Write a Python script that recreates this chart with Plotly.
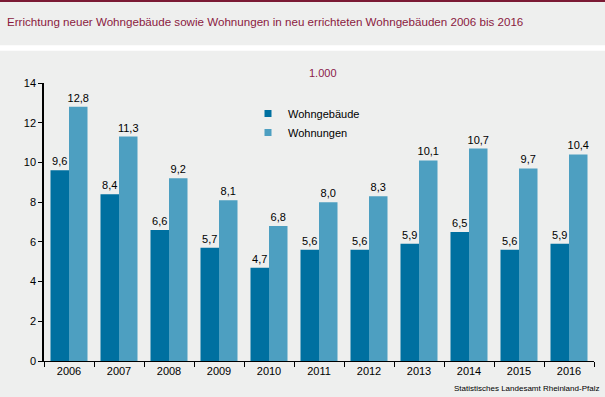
import plotly.graph_objects as go

years = ["2006", "2007", "2008", "2009", "2010", "2011", "2012", "2013", "2014", "2015", "2016"]
wohngebaeude = [9.6, 8.4, 6.6, 5.7, 4.7, 5.6, 5.6, 5.9, 6.5, 5.6, 5.9]
wohnungen = [12.8, 11.3, 9.2, 8.1, 6.8, 8.0, 8.3, 10.1, 10.7, 9.7, 10.4]
y_ticks = [0, 2, 4, 6, 8, 10, 12, 14]

BG = "#eeefee"
DARK = "#0070a0"
LIGHT = "#4d9fc1"
FONT = "Liberation Sans, Arial, sans-serif"

L, R, T, B = 44, 11, 83, 36
W, H = 605, 397
pw, ph = W - L - R, H - T - B

def px_x(q):
    return (q - L) / pw

def px_y(p):
    return (H - B - p) / ph

fig = go.Figure()
fig.add_trace(go.Bar(
    x=years, y=wohngebaeude, name="Wohngebäude", legendgroup="g1", showlegend=False,
    marker=dict(color=DARK, line=dict(width=0)),
    texttemplate="%{y:.1f}", textposition="outside", constraintext="none",
    textfont=dict(size=11, color="#000000", family=FONT), cliponaxis=False,
))
fig.add_trace(go.Bar(
    x=years, y=wohnungen, name="Wohnungen", legendgroup="g2", showlegend=False,
    marker=dict(color=LIGHT, line=dict(width=0)),
    texttemplate="%{y:.1f}", textposition="outside", constraintext="none",
    textfont=dict(size=11, color="#000000", family=FONT), cliponaxis=False,
))
# legend entries with small square symbols, as in the reference
for name, col, grp in [("Wohngebäude", DARK, "g1"), ("Wohnungen", LIGHT, "g2")]:
    fig.add_trace(go.Scatter(
        x=[None], y=[None], mode="markers", name=name, legendgroup=grp,
        marker=dict(symbol="square", size=7, color=col), hoverinfo="skip",
    ))

fig.update_layout(
    width=W, height=H,
    margin=dict(l=L, r=R, t=T, b=B, pad=0),
    paper_bgcolor=BG, plot_bgcolor=BG,
    separators=",.",
    barmode="group", bargap=0.26, bargroupgap=0,
    font=dict(family=FONT, size=11, color="#000000"),
    showlegend=True,
    legend=dict(
        x=px_x(248), y=px_y(99), xanchor="left", yanchor="top",
        bgcolor="rgba(0,0,0,0)", font=dict(size=11, color="#000000"),
        itemwidth=30, tracegroupgap=0,
    ),
    xaxis=dict(
        showgrid=False, showline=True, linecolor="#000000", linewidth=1,
        ticks="outside", tickson="boundaries", ticklen=5, tickcolor="#000000",
        tickfont=dict(size=11, color="#000000"), zeroline=False,
    ),
    yaxis=dict(
        range=[0, 14], tickvals=y_ticks, showgrid=False, showline=True,
        linecolor="#000000", linewidth=1.5, ticks="outside", ticklen=4,
        tickcolor="#000000", tickfont=dict(size=11, color="#000000"),
        zeroline=False,
    ),
    shapes=[
        dict(type="rect", xref="paper", yref="paper",
             x0=px_x(0), x1=px_x(W), y0=px_y(2), y1=px_y(0),
             fillcolor="#7b1a34", line=dict(width=0), layer="below"),
        dict(type="rect", xref="paper", yref="paper",
             x0=px_x(0), x1=px_x(W), y0=px_y(50.7), y1=px_y(45.3),
             fillcolor="#ffffff", line=dict(width=0), layer="below"),
    ],
    annotations=[
        dict(text="Errichtung neuer Wohngebäude sowie Wohnungen in neu errichteten Wohngebäuden 2006 bis 2016",
             xref="paper", yref="paper", x=px_x(5), y=px_y(21),
             xanchor="left", yanchor="middle", showarrow=False,
             font=dict(size=11.6, color="#8b1a3e", family=FONT)),
        dict(text="1.000", xref="paper", yref="paper", x=px_x(323), y=px_y(73),
             xanchor="center", yanchor="middle", showarrow=False,
             font=dict(size=11, color="#8b1a4a", family=FONT)),
        dict(text="Statistisches Landesamt Rheinland-Pfalz", xref="paper", yref="paper",
             x=px_x(601), y=px_y(388), xanchor="right", yanchor="middle", showarrow=False,
             font=dict(size=8, color="#000000", family=FONT)),
    ],
)

fig.write_html("out.html", config={"displayModeBar": False},
               post_script="document.body.style.margin='0';document.body.style.overflow='hidden';")
